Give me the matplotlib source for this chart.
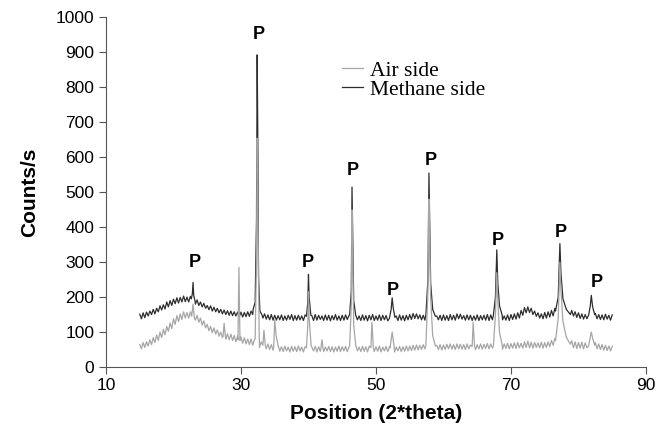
import numpy as np
import matplotlib.pyplot as plt

# 2-theta positions of the background readings: upper edge of the noise band
# every 0.5 deg from 15, lower edge in between (15.25, 15.75, ...)
x_main = np.arange(15.0, 85.01, 0.5)
x_mid = np.arange(15.25, 84.76, 0.5)

# methane side (dark trace), upper edge of background band
methane_bg = [
    151, 155, 157, 160, 165, 168, 175, 178, 186, 190,
    194, 198, 199, 203, 200, 202, 195, 192, 186, 182,
    176, 175, 171, 168, 165, 163, 161, 160, 158, 157,
    157, 156, 158, 160, 166, 162, 155, 152, 149, 150,
    148, 147, 149, 146, 148, 150, 147, 148, 146, 149,
    148, 147, 150, 148, 146, 149, 148, 147, 150, 146,
    148, 149, 147, 150, 148, 146, 149, 147, 148, 150,
    146, 149, 148, 147, 150, 148, 146, 149, 147, 148,
    150, 153, 152, 149, 148, 150, 147, 149, 146, 148,
    149, 147, 150, 148, 152, 151, 147, 149, 148, 146,
    149, 147, 148, 150, 149, 147, 150, 148, 146, 149,
    150, 152, 155, 162, 170, 172, 168, 160, 155, 152,
    156, 158, 162, 168, 178, 185, 178, 170, 162, 158,
    155, 152, 150, 155, 160, 153, 150, 149, 151, 148,
    149,
]
# methane side, lower edge of background band
methane_mid = [
    138, 141, 146, 150, 152, 158, 163, 166, 172, 176,
    181, 183, 186, 187, 186, 184, 180, 176, 172, 168,
    164, 160, 158, 155, 152, 150, 148, 147, 146, 144,
    143, 144, 145, 150, 150, 142, 140, 137, 135, 134,
    134, 135, 133, 134, 136, 133, 134, 135, 133, 134,
    135, 133, 134, 136, 133, 134, 132, 135, 134, 133,
    134, 136, 133, 134, 135, 133, 134, 132, 135, 133,
    134, 133, 135, 132, 134, 135, 133, 134, 132, 135,
    136, 139, 138, 135, 134, 135, 133, 134, 135, 133,
    134, 133, 135, 134, 138, 137, 134, 135, 133, 134,
    133, 135, 134, 133, 135, 134, 133, 135, 134, 133,
    136, 137, 140, 148, 155, 156, 150, 145, 140, 138,
    140, 143, 146, 152, 160, 165, 158, 152, 146, 142,
    139, 137, 138, 140, 144, 138, 136, 135, 137, 134,
]

# air side (grey trace), upper edge
air_bg = [
    64, 70, 72, 78, 84, 92, 100, 108, 116, 126,
    138, 147, 152, 158, 156, 158, 152, 148, 140, 132,
    122, 116, 112, 106, 100, 98, 95, 94, 90, 88,
    86, 84, 80, 80, 78, 76, 72, 70, 66, 64,
    62, 60, 58, 60, 57, 59, 58, 60, 57, 58,
    60, 57, 59, 58, 60, 57, 59, 58, 57, 60,
    58, 59, 57, 60, 58, 57, 59, 58, 60, 57,
    58, 60, 57, 59, 58, 60, 57, 59, 58, 60,
    60, 62, 63, 62, 64, 66, 65, 63, 62, 64,
    63, 65, 66, 64, 66, 65, 64, 66, 63, 65,
    64, 66, 65, 67, 66, 68, 67, 65, 66, 68,
    67, 69, 70, 68, 72, 74, 71, 70, 69, 71,
    70, 72, 76, 82, 90, 95, 88, 80, 75, 72,
    70, 71, 69, 70, 74, 70, 66, 64, 62, 60,
    59,
]
# air side, lower edge
air_mid = [
    52, 56, 60, 64, 70, 76, 84, 92, 102, 110,
    122, 130, 136, 140, 140, 138, 134, 128, 120, 112,
    104, 98, 94, 88, 84, 80, 78, 76, 72, 70,
    68, 66, 64, 62, 58, 56, 54, 52, 50, 48,
    46, 45, 44, 46, 43, 45, 44, 46, 43, 45,
    44, 46, 43, 45, 44, 46, 44, 43, 45, 44,
    46, 44, 45, 43, 46, 44, 45, 43, 46, 44,
    45, 43, 46, 44, 45, 43, 46, 44, 45, 46,
    47, 48, 49, 50, 52, 50, 49, 48, 50, 49,
    50, 52, 51, 50, 52, 51, 50, 52, 51, 50,
    52, 51, 53, 52, 54, 53, 52, 51, 53, 52,
    54, 53, 55, 54, 56, 55, 54, 56, 55, 54,
    56, 58, 62, 68, 74, 70, 64, 58, 55, 53,
    54, 52, 55, 53, 56, 52, 50, 48, 47, 46,
]

# peak profiles (2theta, counts)
methane_peaks = [
    [(22.65, 195), (22.8, 210), (22.9, 242), (23.0, 205), (23.2, 188)],
    [(31.8, 165), (32.1, 185), (32.3, 420), (32.4, 893), (32.5, 640),
     (32.6, 260), (32.8, 160), (33.1, 150)],
    [(39.7, 145), (39.9, 185), (40.0, 265), (40.1, 200), (40.35, 148)],
    [(46.1, 150), (46.35, 220), (46.45, 515), (46.55, 380), (46.7, 190), (47.0, 148)],
    [(52.0, 140), (52.25, 165), (52.4, 198), (52.55, 170), (52.8, 142)],
    [(57.4, 150), (57.7, 250), (57.85, 555), (57.95, 430), (58.1, 240),
     (58.4, 165), (58.8, 145)],
    [(67.4, 148), (67.7, 200), (67.9, 335), (68.05, 240), (68.3, 175), (68.7, 148)],
    [(76.6, 160), (77.0, 200), (77.25, 353), (77.4, 270), (77.7, 195),
     (78.2, 165), (78.8, 150)],
    [(81.5, 148), (81.75, 175), (81.9, 205), (82.1, 172), (82.4, 150)],
]

air_peaks = [
    [(22.7, 145), (22.9, 180), (23.1, 140)],
    [(27.35, 88), (27.5, 125), (27.7, 85)],
    [(29.55, 78), (29.7, 285), (29.85, 76)],
    [(32.1, 80), (32.3, 300), (32.4, 655), (32.5, 450), (32.7, 90)],
    [(33.25, 62), (33.4, 105), (33.6, 62)],
    [(34.85, 58), (35.0, 135), (35.2, 90), (35.5, 62)],
    [(39.7, 55), (39.9, 120), (40.0, 215), (40.1, 140), (40.4, 60)],
    [(41.85, 55), (42.0, 78), (42.15, 54)],
    [(46.1, 60), (46.35, 180), (46.45, 450), (46.55, 330), (46.7, 120), (47.0, 62)],
    [(49.25, 55), (49.4, 128), (49.6, 58)],
    [(52.1, 55), (52.4, 100), (52.7, 56)],
    [(57.4, 62), (57.7, 220), (57.85, 480), (57.95, 380), (58.1, 200),
     (58.4, 90), (58.8, 60)],
    [(64.25, 58), (64.4, 128), (64.6, 60)],
    [(67.4, 60), (67.7, 150), (67.9, 270), (68.05, 190), (68.3, 100), (68.7, 62)],
    [(76.6, 75), (77.0, 140), (77.25, 300), (77.4, 220), (77.7, 130),
     (78.2, 85), (78.8, 65)],
    [(81.5, 60), (81.75, 85), (81.9, 100), (82.1, 82), (82.4, 62)],
]

# "P" marks above the perovskite reflections
p_x = [23.2, 32.7, 39.9, 46.6, 52.5, 58.1, 68.1, 77.4, 82.7]
p_y = [298, 950, 300, 563, 220, 592, 363, 386, 243]


def build_trace(bg, mid, peaks):
    x_bg = np.concatenate([x_main, x_mid])
    y_bg = np.concatenate([bg, mid])
    # drop background readings that fall inside a peak, then merge
    keep = np.ones(len(x_bg), dtype=bool)
    for pk in peaks:
        lo, hi = pk[0][0], pk[-1][0]
        keep &= ~((x_bg >= lo) & (x_bg <= hi))
    xs = list(x_bg[keep])
    ys = list(y_bg[keep])
    for pk in peaks:
        for px, py in pk:
            xs.append(px)
            ys.append(py)
    order = np.argsort(xs)
    return np.array(xs)[order], np.array(ys)[order]


xm, ym = build_trace(methane_bg, methane_mid, methane_peaks)
xa, ya = build_trace(air_bg, air_mid, air_peaks)

plt.rcParams['font.family'] = ['Liberation Sans', 'DejaVu Sans']

fig = plt.figure(figsize=(6.57, 4.45), dpi=100)
ax = fig.add_axes([0.1613, 0.1753, 0.8219, 0.7854])

l_m, = ax.plot(xm, ym, color='#2e2e2e', lw=0.9, zorder=2)
l_a, = ax.plot(xa, ya, color='#a6a6a6', lw=0.9, zorder=3)

for px, py in zip(p_x, p_y):
    ax.text(px, py, 'P', ha='center', va='center', fontsize=13,
            fontweight='bold', color='black')

ax.set_xlim(10, 90)
ax.set_ylim(0, 1000)
ax.set_xticks([10, 30, 50, 70, 90])
ax.set_yticks(range(0, 1001, 100))
ax.tick_params(direction='out', length=5, width=0.8, colors='#555555',
               labelcolor='black', labelsize=12.5)
ax.tick_params(axis='x', pad=3)
for side in ['top', 'right']:
    ax.spines[side].set_visible(False)
for side in ['left', 'bottom']:
    ax.spines[side].set_color('#555555')
    ax.spines[side].set_linewidth(0.8)

ax.set_xlabel('Position (2*theta)', fontsize=15, fontweight='bold', labelpad=8)
ax.set_ylabel('Counts/s', fontsize=15, fontweight='bold', labelpad=12)

ax.legend([l_a, l_m], ['Air side', 'Methane side'], loc='upper left',
          bbox_to_anchor=(0.4365, 0.876), frameon=False, handlelength=1.0,
          handletextpad=0.33, labelspacing=-0.05, borderpad=0, borderaxespad=0,
          prop={'family': 'Liberation Serif', 'size': 15.5})

fig.savefig('out.png', dpi=100)
